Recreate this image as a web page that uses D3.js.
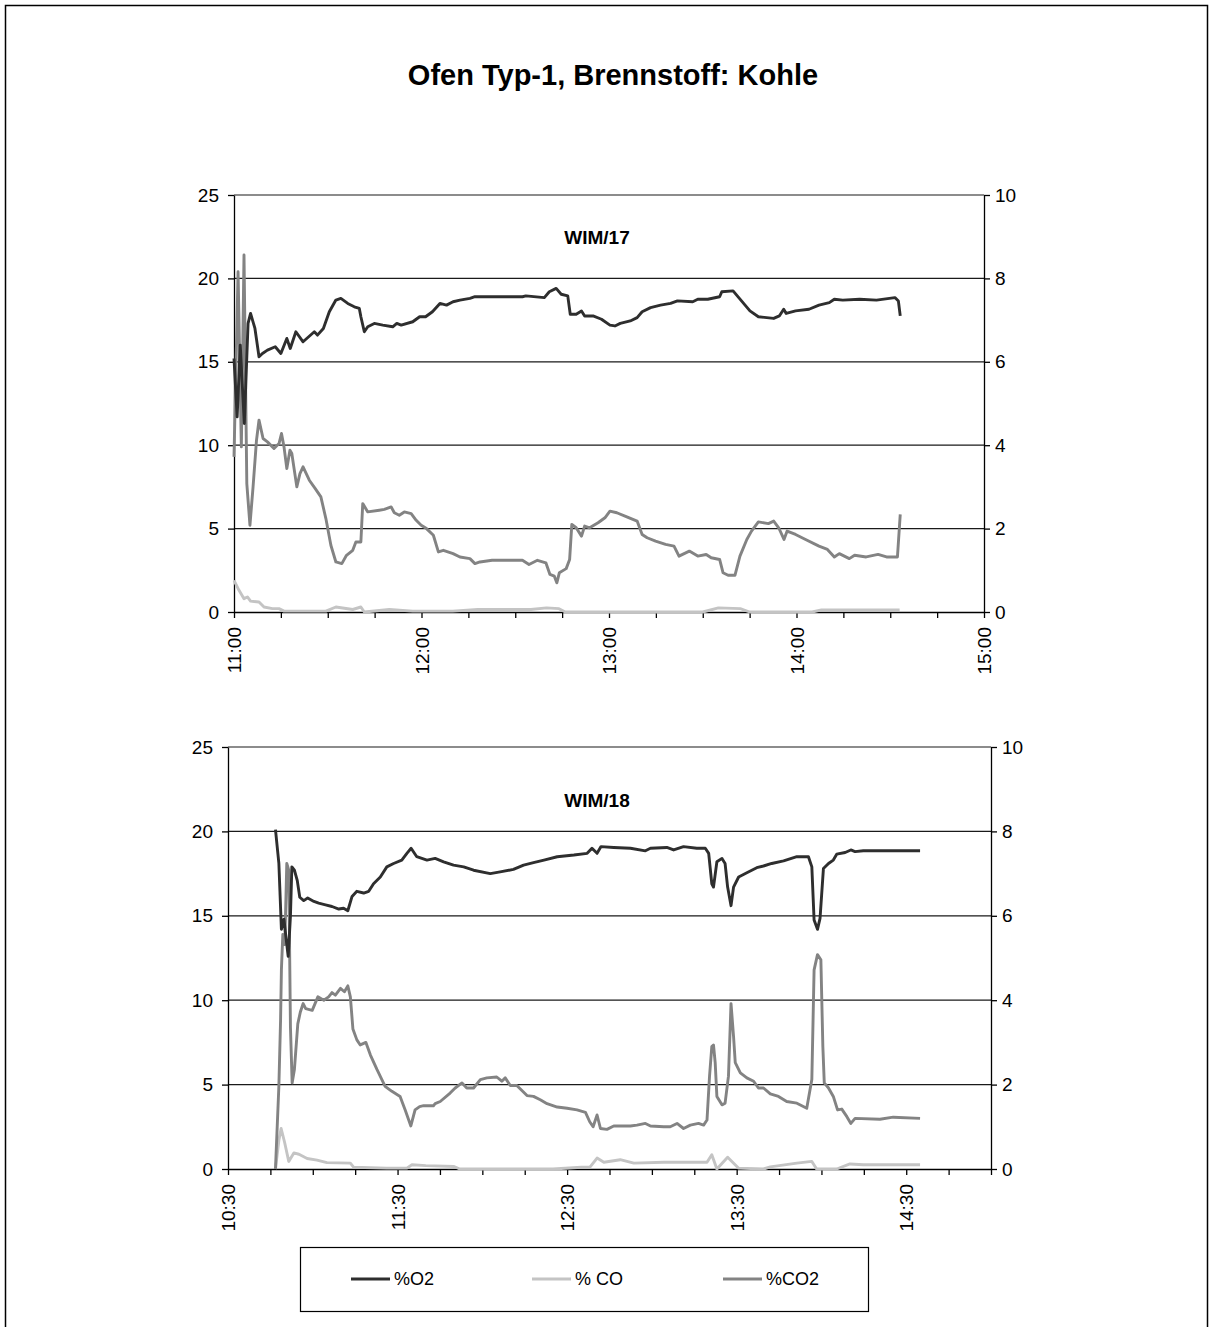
<!DOCTYPE html>
<html>
<head>
<meta charset="utf-8">
<script src="https://cdn.jsdelivr.net/npm/d3@7/dist/d3.min.js"></script>
<style>
  body { margin: 0; background: #fff; }
  svg text { font-family: "Liberation Sans", Arial, sans-serif; fill: #000; }
</style>
</head>
<body>
<svg id="chart" width="1214" height="1327"></svg>
<script>
/* ------------------------------------------------------------
   DATA  (time = minutes after panel start, value in %)
   O2 / CO2 on left axis (0-25), CO on right axis (0-10)
   ------------------------------------------------------------ */
var TITLE = 'Ofen Typ-1, Brennstoff: Kohle';
var SERIES_NAMES = ['%O2', '% CO', '%CO2'];
var SERIES_COLORS = ['#2e2e2e', '#c4c4c4', '#838383'];
var LEFT_TICKS = [0, 5, 10, 15, 20, 25];
var RIGHT_TICKS = [0, 2, 4, 6, 8, 10];

// WIM/17 — starts 11:00
var wim17_o2 = [[0,15.2],[1.0,11.7],[2.0,16.0],[3.3,11.3],[4.5,17.3],[5.3,17.9],[6.7,17.0],[8.0,15.3],[9.1,15.5],
  [10.7,15.7],[13.2,15.9],[15,15.5],[16.9,16.4],[18,15.8],[19.8,16.8],[22.1,16.2],[25.7,16.8],[26.7,16.6],[28.6,17.0],
  [30.5,18.0],[32.6,18.7],[34.2,18.8],[36.4,18.5],[38.5,18.3],[40.1,18.2],[40.6,17.7],[41.7,16.8],[42.8,17.1],[44.9,17.3],
  [47.6,17.2],[50.8,17.1],[52.1,17.3],[53.5,17.2],[57.2,17.4],[59.4,17.7],[61.3,17.7],[63.5,18.0],[65.9,18.5],[68,18.4],
  [70.1,18.6],[72.3,18.7],[75.5,18.8],[77.1,18.9],[78.2,18.9],[92.3,18.9],[93.4,18.95],[99.3,18.85],[100.9,19.2],
  [103.1,19.4],[104.7,19.05],[106.8,18.95],[107.6,17.85],[109.5,17.85],[111.2,18.05],[112.2,17.75],[114.9,17.75],
  [117.6,17.55],[120.3,17.2],[121.9,17.15],[123.6,17.3],[126.8,17.45],[129,17.65],[130.6,18.0],[133.3,18.25],[136.5,18.4],
  [139.7,18.5],[141.9,18.65],[146.8,18.6],[148.4,18.75],[151.6,18.75],[155.4,18.9],[156.1,19.2],[159.7,19.25],
  [162.4,18.65],[165.1,18.05],[167.8,17.7],[172.7,17.6],[174.5,17.75],[175.9,18.15],[176.7,17.9],[179.7,18.05],
  [184,18.15],[187.2,18.4],[190.5,18.55],[192.1,18.75],[194.8,18.7],[200.2,18.75],[205.6,18.7],[211.5,18.85],
  [212.6,18.65],[213.2,17.75]];
var wim17_co = [[0,0.76],[1.6,0.52],[3.2,0.32],[4.3,0.36],[5.3,0.26],[8,0.24],[9.6,0.12],[12.3,0.08],[14.4,0.08],
  [16,0.02],[29.4,0.02],[32.6,0.12],[38,0.06],[40.6,0.12],[41.7,0],[49.7,0.06],[57.2,0.02],[70,0.02],[78,0.06],
  [95,0.06],[100,0.1],[104,0.08],[106,0],[125,0],[150,0],[155,0.1],[162,0.08],[165,0],[185,0],[188,0.05],[213,0.05]];
var wim17_co2 = [[0,9.3],[1.3,20.4],[2.35,9.9],[3.2,21.4],[4.1,7.7],[5.1,5.2],[6.1,7.5],[7.2,10.3],[8,11.5],[9.3,10.4],
  [10.7,10.2],[12.8,9.8],[14.4,10.1],[15.2,10.7],[16,9.9],[16.9,8.6],[17.9,9.7],[18.5,9.5],[20.1,7.5],[21.1,8.3],
  [22.1,8.7],[24.1,7.9],[26,7.4],[27.8,6.9],[29.4,5.6],[31,4.0],[32.6,3.0],[34.5,2.9],[36,3.4],[38,3.7],[39,4.2],
  [40.6,4.2],[41.2,6.5],[42.8,6.0],[46.5,6.1],[48.1,6.15],[50.3,6.3],[51.3,5.95],[52.9,5.8],[54.5,6.0],[56.7,5.9],
  [58.3,5.5],[59.9,5.2],[61.6,5.0],[63.8,4.6],[65.4,3.6],[67,3.7],[70.1,3.5],[72.3,3.3],[75.5,3.2],[77.1,2.9],
  [78.7,3.0],[82.6,3.1],[86.9,3.1],[92.3,3.1],[94.4,2.85],[97.1,3.1],[99.8,2.95],[101.1,2.25],[102.5,2.15],
  [103.3,1.75],[104.1,2.35],[106.3,2.6],[107.4,3.15],[108.1,5.25],[109.5,5.05],[111.2,4.55],[112.2,5.15],[113.8,5.05],
  [116.5,5.35],[118.7,5.65],[120.3,6.05],[122.5,5.95],[125.7,5.7],[129,5.45],[130.6,4.65],[132.2,4.45],[134.9,4.25],
  [138.1,4.05],[140.8,3.95],[142.4,3.35],[145.7,3.65],[148.4,3.35],[151.1,3.45],[152.7,3.25],[155.4,3.15],[156.5,2.35],
  [158.1,2.2],[160.3,2.2],[161.9,3.35],[164.1,4.35],[165.6,4.85],[167.8,5.4],[171,5.3],[172.7,5.45],[174.3,5.05],
  [176,4.35],[177,4.85],[179.7,4.65],[182.9,4.35],[187.2,3.95],[189.9,3.75],[192.1,3.3],[193.7,3.5],[196.9,3.2],
  [198.6,3.4],[202.3,3.3],[206.1,3.45],[208.8,3.3],[212.3,3.3],[213.2,5.85]];

// WIM/18 — starts 10:30
var wim18_o2 = [[16.8,20.1],[18,18.1],[18.9,14.2],[19.8,14.8],[20.6,13.6],[21.3,12.6],[22.1,15.0],[22.6,17.9],
  [23.5,17.7],[24.5,17.1],[25.4,16.1],[26.8,15.9],[28.2,16.05],[30.4,15.85],[32.1,15.75],[34.5,15.65],[36.8,15.55],
  [39.2,15.4],[40.9,15.45],[42.4,15.3],[43.9,16.15],[45.6,16.45],[48,16.35],[49.8,16.45],[51.5,16.9],[53.9,17.3],
  [56.2,17.9],[58.6,18.1],[61.5,18.3],[63.3,18.7],[64.8,19.0],[66.8,18.5],[70.4,18.3],[73.3,18.4],[76.3,18.2],
  [79.8,18.0],[83.4,17.9],[86.9,17.7],[92.8,17.5],[96.3,17.6],[101,17.75],[104.6,18.0],[108.1,18.15],[111.8,18.3],
  [116.5,18.5],[122.4,18.6],[127.1,18.7],[128.8,19.0],[130.6,18.7],[132,19.1],[136.5,19.05],[142.4,19.0],[147.7,18.85],
  [149.5,19.0],[155.3,19.05],[157.7,18.9],[161.2,19.1],[165.9,19.0],[168.9,19.0],[170.1,18.7],[171.2,16.9],[171.8,16.7],
  [173,18.2],[174.8,18.4],[175.9,18.1],[176.8,16.7],[178,15.6],[178.9,16.7],[180.7,17.3],[183.6,17.55],[187.1,17.85],
  [189.5,17.95],[192.4,18.1],[196.6,18.25],[201.3,18.5],[205.4,18.5],[206.6,17.9],[207.4,14.75],[208.6,14.2],
  [209.5,14.85],[210.7,17.8],[212.5,18.1],[214.2,18.3],[215.4,18.65],[218.4,18.75],[220.4,18.9],[221.9,18.8],
  [224.8,18.85],[244.9,18.85]];
var wim18_co = [[16.8,0],[18,0.68],[18.8,0.96],[20,0.64],[21.5,0.18],[23.3,0.38],[25.1,0.35],[28,0.25],[31.5,0.21],
  [35,0.15],[43.3,0.14],[44.5,0.04],[56.2,0.02],[63.3,0.02],[65.1,0.1],[70,0.08],[80,0.06],[82,0],[115,0],[125,0.04],
  [128,0.04],[130.6,0.26],[133,0.16],[138.8,0.22],[143.6,0.14],[154.2,0.16],[169.5,0.16],[171.2,0.34],[173,0],
  [176.8,0.28],[180.7,0.02],[189.5,0],[191.9,0.05],[201.3,0.14],[206.6,0.18],[208.3,0],[215.4,0],[220.1,0.12],
  [224.8,0.1],[244.9,0.1]];
var wim18_co2 = [[16.8,0],[18,4.9],[18.6,8.8],[18.9,11.8],[19.4,13.9],[20.1,13.3],[20.8,18.1],[21.5,17.7],[22.1,8.4],
  [22.7,5.1],[23.5,5.9],[24.7,8.6],[25.6,9.3],[26.6,9.8],[27.5,9.5],[29.8,9.4],[31.8,10.2],[33.9,10.0],[35.6,10.2],
  [36.8,10.45],[38,10.3],[39.8,10.7],[41.2,10.5],[42.4,10.85],[43.3,10.2],[44.2,8.3],[45.6,7.65],[46.8,7.35],[48.8,7.5],
  [50.4,6.75],[52.7,5.9],[55.6,4.9],[58,4.6],[60.9,4.3],[62.7,3.5],[64.7,2.55],[66.2,3.5],[67.8,3.7],[69.2,3.75],
  [72.7,3.75],[73.3,3.87],[75.1,4.0],[78.6,4.5],[80.4,4.8],[82.8,5.1],[84.5,4.8],[86.9,4.8],[89.3,5.3],[91.6,5.4],
  [95.1,5.45],[96.9,5.2],[98.1,5.4],[99.9,4.95],[102.2,4.95],[105.8,4.35],[108.1,4.3],[110.5,4.1],[112.9,3.87],
  [116.5,3.67],[120,3.6],[123.5,3.5],[126.5,3.35],[128,2.8],[129.2,2.5],[130.6,3.2],[131.8,2.4],[134.1,2.35],
  [136.5,2.55],[142.4,2.55],[144.7,2.6],[147.7,2.7],[149.5,2.55],[154.2,2.5],[156.5,2.5],[158.9,2.7],[161.2,2.4],
  [163.6,2.6],[166.5,2.7],[168.3,2.6],[169.5,2.9],[170.4,5.5],[171.2,7.25],[171.8,7.35],[172.4,6.3],[173,4.3],
  [174.8,3.8],[175.9,3.9],[177.1,5.5],[178,9.8],[178.9,7.85],[179.5,6.3],[181.3,5.7],[183.6,5.4],[186,5.2],[187.7,4.8],
  [189.5,4.8],[191.9,4.45],[194.8,4.3],[197.7,4.0],[201.3,3.9],[204.8,3.6],[206.6,5.3],[207.4,11.8],[208.6,12.7],
  [209.8,12.4],[210.5,7.25],[211,5.1],[212.5,4.8],[214.2,4.3],[215.7,3.5],[217.2,3.55],[219,3.1],[220.4,2.7],
  [221.9,3.0],[230.7,2.95],[235.4,3.07],[244.9,3.0]];

var PANELS = [
  { label: 'WIM/17', start: 11 * 60, span: 240, labelEvery: 60,
    o2: wim17_o2, co: wim17_co, co2: wim17_co2,
    box: { left: 234, right: 984, top: 195, bottom: 612 }, labelY: 244 },
  { label: 'WIM/18', start: 10 * 60 + 30, span: 270, labelEvery: 60,
    o2: wim18_o2, co: wim18_co, co2: wim18_co2,
    box: { left: 228, right: 991, top: 747, bottom: 1169 }, labelY: 807 }
];

var svg = d3.select('#chart');

// outer frame (bottom edge runs off the page)
svg.append('rect')
    .attr('x', 5.5).attr('y', 5.5)
    .attr('width', 1202).attr('height', 1340)
    .attr('fill', 'none').attr('stroke', '#000').attr('stroke-width', 1.5);

svg.append('text')
    .attr('x', 613).attr('y', 85)
    .attr('text-anchor', 'middle')
    .attr('font-size', '29px').attr('font-weight', 'bold')
    .text(TITLE);

function fmtTime(m) {
    var h = Math.floor(m / 60), mm = m % 60;
    return h + ':' + (mm < 10 ? '0' : '') + mm;
}

function drawPanel(p) {
    var b = p.box;
    var x = d3.scaleLinear().domain([p.start, p.start + p.span]).range([b.left, b.right]);
    var yL = d3.scaleLinear().domain([0, 25]).range([b.bottom, b.top]);
    var yR = d3.scaleLinear().domain([0, 10]).range([b.bottom, b.top]);

    var g = svg.append('g');

    // gridlines
    g.selectAll('.grid').data(LEFT_TICKS.slice(1)).enter().append('line')
        .attr('x1', b.left).attr('x2', b.right)
        .attr('y1', function(d) { return yL(d); })
        .attr('y2', function(d) { return yL(d); })
        .attr('stroke', '#1a1a1a').attr('stroke-width', 1.2);

    var ticks = d3.range(p.start, p.start + p.span + 1, 15);

    var xAxis = g.append('g')
        .attr('transform', 'translate(0,' + b.bottom + ')')
        .call(d3.axisBottom(x).tickValues(ticks).tickSize(6).tickSizeOuter(0)
            .tickFormat(function(d) { return (d - p.start) % p.labelEvery === 0 ? fmtTime(d) : ''; }));
    xAxis.selectAll('text')
        .attr('transform', 'rotate(-90)')
        .attr('x', -15).attr('y', 0).attr('dy', '0.35em')
        .style('text-anchor', 'end')
        .style('font-size', '19px');

    var lAxis = g.append('g')
        .attr('transform', 'translate(' + b.left + ',0)')
        .call(d3.axisLeft(yL).tickValues(LEFT_TICKS).tickSize(6).tickSizeOuter(0).tickPadding(9));
    lAxis.selectAll('text').style('font-size', '19px');

    var rAxis = g.append('g')
        .attr('transform', 'translate(' + b.right + ',0)')
        .call(d3.axisRight(yR).tickValues(RIGHT_TICKS).tickSize(6).tickSizeOuter(0).tickPadding(5));
    rAxis.selectAll('text').style('font-size', '19px');

    g.selectAll('.domain, .tick line').attr('stroke', '#000').attr('stroke-width', 1.3);

    g.append('text')
        .attr('x', 597).attr('y', p.labelY)
        .attr('text-anchor', 'middle')
        .attr('font-size', '19px').attr('font-weight', 'bold')
        .text(p.label);

    var lineL = d3.line()
        .x(function(d) { return x(p.start + d[0]); })
        .y(function(d) { return yL(d[1]); });
    var lineR = d3.line()
        .x(function(d) { return x(p.start + d[0]); })
        .y(function(d) { return yR(d[1]); });

    var draws = [
        { data: p.co,  gen: lineR, color: SERIES_COLORS[1] },
        { data: p.co2, gen: lineL, color: SERIES_COLORS[2] },
        { data: p.o2,  gen: lineL, color: SERIES_COLORS[0] }
    ];
    draws.forEach(function(s) {
        g.append('path')
            .datum(s.data)
            .attr('fill', 'none')
            .attr('stroke', s.color)
            .attr('stroke-width', 2.9)
            .attr('stroke-linejoin', 'round')
            .attr('d', s.gen);
    });
}

PANELS.forEach(drawPanel);

// legend
var lg = svg.append('g');
lg.append('rect')
    .attr('x', 300.5).attr('y', 1247.5).attr('width', 568).attr('height', 64)
    .attr('fill', '#fff').attr('stroke', '#000').attr('stroke-width', 1.2);
var legendX = [351, 532, 723];
SERIES_NAMES.forEach(function(name, i) {
    lg.append('line')
        .attr('x1', legendX[i]).attr('x2', legendX[i] + 39)
        .attr('y1', 1279).attr('y2', 1279)
        .attr('stroke', SERIES_COLORS[i]).attr('stroke-width', 2.9);
    lg.append('text')
        .attr('x', legendX[i] + 43).attr('y', 1285)
        .attr('font-size', '18px')
        .text(name);
});
</script>
</body>
</html>
